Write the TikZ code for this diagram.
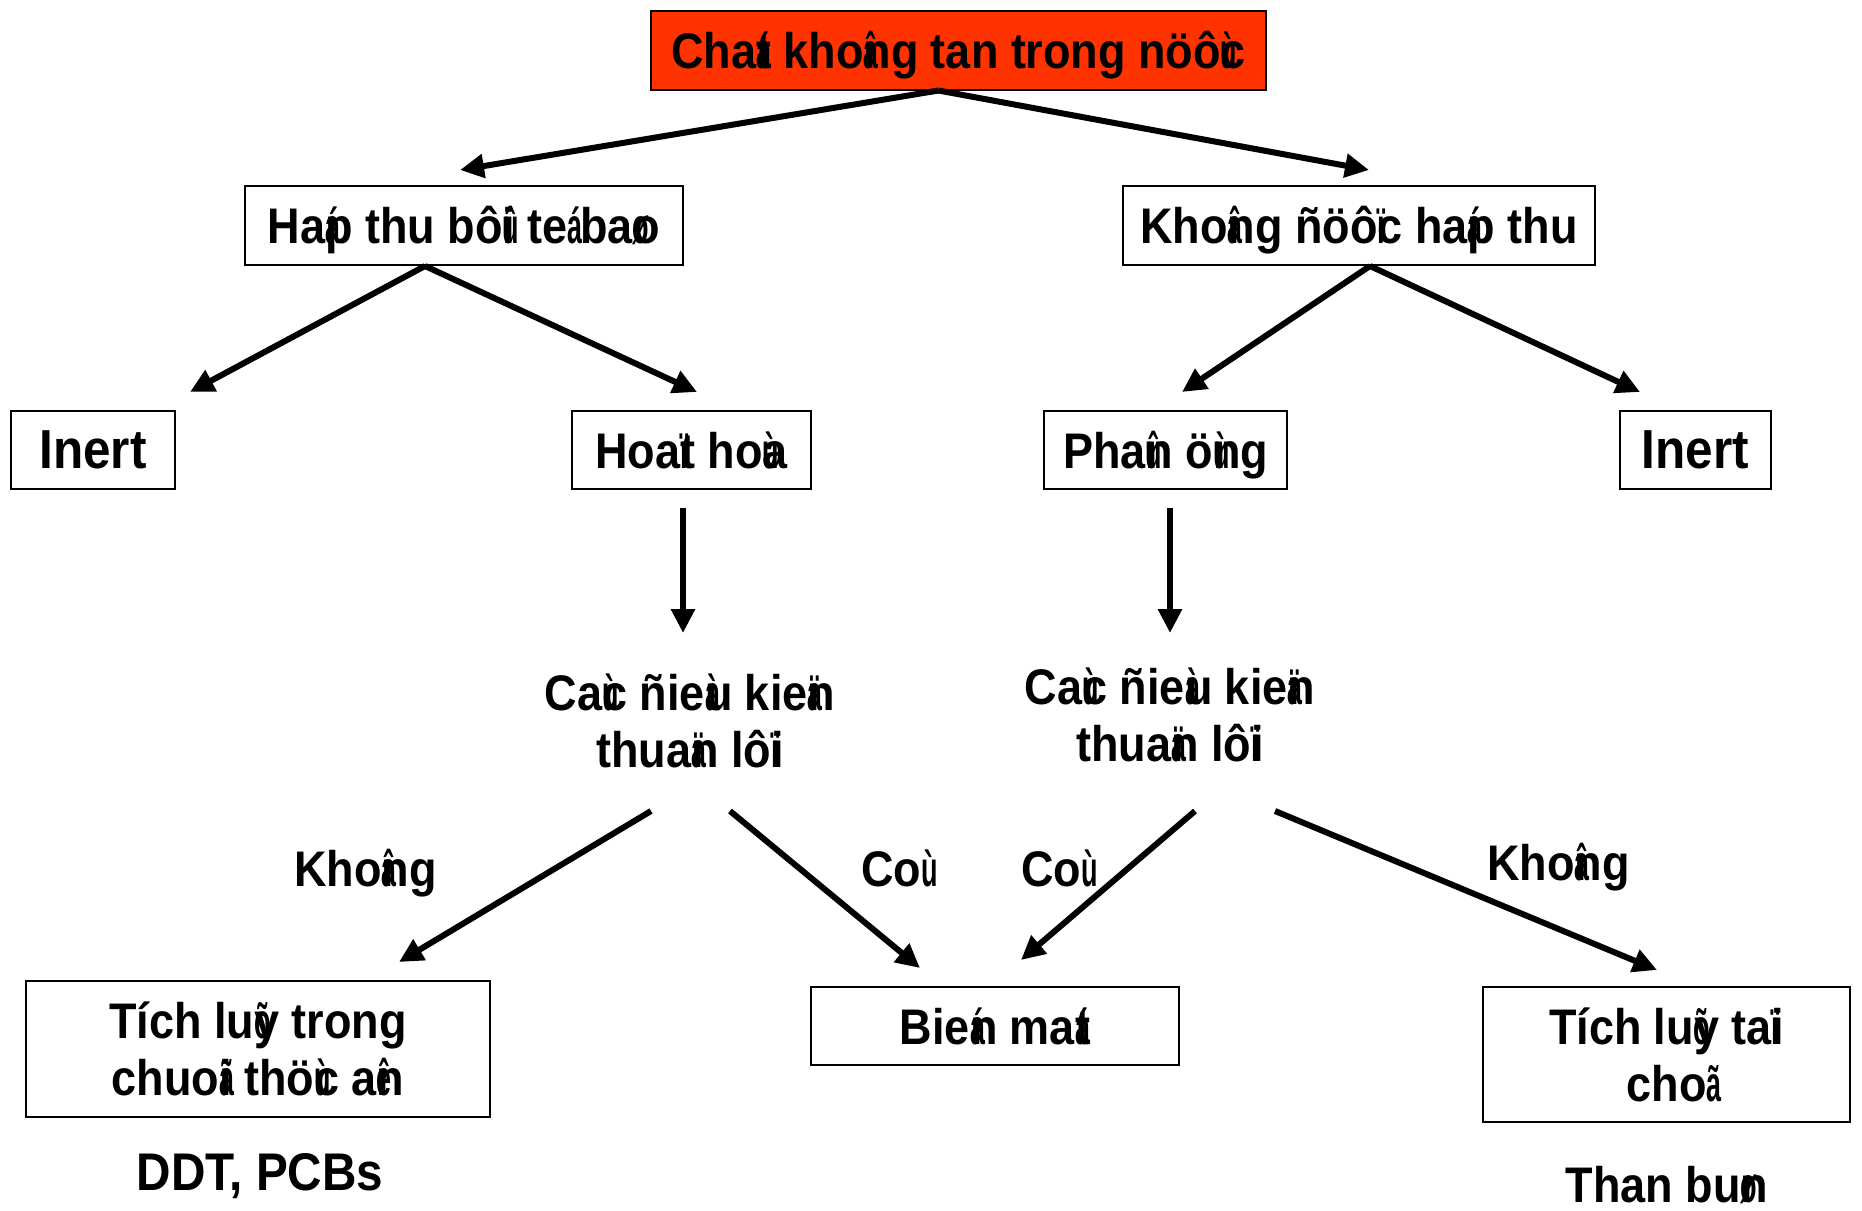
\documentclass[tikz,border=0pt]{standalone}
\usepackage{graphicx}
\usepackage{fontspec}
\setmainfont[FakeStretch=0.9]{Liberation Sans}
\usetikzlibrary{arrows.meta}
\definecolor{hot}{RGB}{255,51,0}
% VNI diacritic characters: narrow, no advance width, drawn over the next letter
\newcommand{\zw}[1]{\rlap{\scalebox{0.6}[1]{#1}}}
\newcommand{\lbl}{\fontsize{50}{57}\selectfont\bfseries}
\newcommand{\lblbig}{\fontsize{55}{57}\selectfont\bfseries}
\tikzset{
  box/.style={draw=black, line width=2pt, inner sep=0pt, align=center, font=\lbl,
              text height=36pt, text depth=0pt},
  twoline/.style={box, text height=93pt},
  plain/.style={inner sep=0pt, align=center, font=\lbl},
  conn/.style={line width=6pt, -{Triangle[length=24pt,width=23pt]}}
}
\begin{document}
\begin{tikzpicture}[x=1pt,y=-1pt]
\useasboundingbox (0,0) rectangle (1862,1210);
\fill[white] (0,0) rectangle (1862,1210);

% boxes
\node[box, fill=hot, minimum width=615pt, minimum height=79pt] (top) at (958.5,50)
  {Cha\zw{á}t kho\zw{â}ng tan trong nöô\zw{ù}c};
\node[box, minimum width=438pt, minimum height=79pt] (absorb) at (464,225.5)
  {Ha\zw{á}p thu bô\zw{û}i te\zw{á} ba\zw{ø}o};
\node[box, minimum width=472pt, minimum height=79pt] (noabs) at (1359,225.5)
  {Kho\zw{â}ng ñöô\zw{ï}c ha\zw{á}p thu};
\node[box, font=\lblbig, minimum width=164pt, minimum height=78pt] (inertL) at (93,450) {Inert};
\node[box, minimum width=239pt, minimum height=78pt] (activ) at (691.5,450)
  {Hoa\zw{ï}t ho\zw{ù}a};
\node[box, minimum width=243pt, minimum height=78pt] (react) at (1165.5,450)
  {Pha\zw{û}n ö\zw{ù}ng};
\node[box, font=\lblbig, minimum width=151pt, minimum height=78pt] (inertR) at (1695.5,450) {Inert};

\node[twoline, draw=none, fill=none] (condL) at (690,720.5)
  {Ca\zw{ù}c ñie\zw{à}u kie\zw{ä}n\\ thua\zw{ä}n lô\zw{ï}i};
\node[twoline, draw=none, fill=none] (condR) at (1170,714.5)
  {Ca\zw{ù}c ñie\zw{à}u kie\zw{ä}n\\ thua\zw{ä}n lô\zw{ï}i};

\node[twoline, minimum width=464pt, minimum height=136pt] (chain) at (258,1049)
  {Tích lu\zw{õ}y trong\\ chuo\zw{ã}i thö\zw{ù}c a\zw{ê}n};
\node[box, minimum width=368pt, minimum height=78pt] (gone) at (995,1026)
  {Bie\zw{á}n ma\zw{á}t};
\node[twoline, minimum width=367pt, minimum height=135pt] (local) at (1666.5,1054.5)
  {Tích lu\zw{õ}y ta\zw{ï}i\\ cho\zw{ã}};

% branch labels and examples
\node[plain, anchor=base west] (noL) at (294,886) {Kho\zw{â}ng};
\node[plain, anchor=base west] (yesL) at (861,886) {Co\zw{ù}};
\node[plain, anchor=base west] (yesR) at (1021,886) {Co\zw{ù}};
\node[plain, anchor=base west] (noR) at (1487,880) {Kho\zw{â}ng};
\node[plain, font=\fontsize{53}{57}\selectfont\bfseries, anchor=base] (ddt) at (260,1190) {DDT, PCBs};
\node[plain, anchor=base] (peat) at (1667,1202) {Than bu\zw{ø}n};

% free arrow ends
\coordinate (e1) at (460,170);
\coordinate (e2) at (1369,170);
\coordinate (e3) at (190,392);
\coordinate (e4) at (697,392);
\coordinate (e5) at (1182,392);
\coordinate (e6) at (1640,392);
\coordinate (s7) at (683,508);
\coordinate (e7) at (683,633);
\coordinate (s8) at (1170,508);
\coordinate (e8) at (1170,633);
\coordinate (s9) at (651,811);
\coordinate (e9) at (399,962);
\coordinate (s10) at (730,811);
\coordinate (e10) at (920,968);
\coordinate (s11) at (1195,811);
\coordinate (e11) at (1021,960);
\coordinate (s12) at (1275,811);
\coordinate (e12) at (1657,970);

% connectors
\draw[conn] ([xshift=-20pt]top.south) -- (e1);
\draw[conn] ([xshift=-20pt]top.south) -- (e2);
\draw[conn] ([xshift=-39pt]absorb.south) -- (e3);
\draw[conn] ([xshift=-39pt]absorb.south) -- (e4);
\draw[conn] ([xshift=11pt]noabs.south) -- (e5);
\draw[conn] ([xshift=11pt]noabs.south) -- (e6);
\draw[conn] (s7) -- (e7);
\draw[conn] (s8) -- (e8);
\draw[conn] (s9) -- (e9);
\draw[conn] (s10) -- (e10);
\draw[conn] (s11) -- (e11);
\draw[conn] (s12) -- (e12);
\end{tikzpicture}
\end{document}
